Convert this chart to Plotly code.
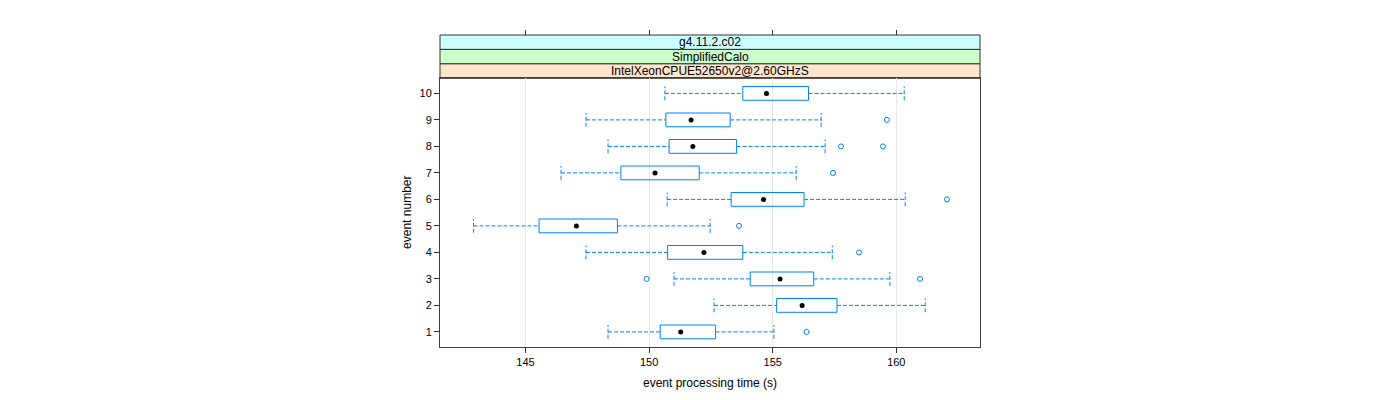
import plotly.graph_objects as go

# ---- data ----
events = [1, 2, 3, 4, 5, 6, 7, 8, 9, 10]
whisker_low = [148.34, 152.63, 151.01, 147.45, 142.90, 150.73, 146.44, 148.34, 147.45, 150.64]
q1 = [150.45, 155.16, 154.09, 150.75, 145.55, 153.32, 148.86, 150.81, 150.68, 153.79]
median = [151.28, 156.19, 155.30, 152.22, 147.06, 154.63, 150.24, 151.77, 151.70, 154.75]
q3 = [152.69, 157.60, 156.66, 153.79, 148.72, 156.27, 152.03, 153.54, 153.28, 156.45]
whisker_high = [155.05, 161.17, 159.74, 157.41, 152.47, 160.36, 155.95, 157.12, 156.96, 160.32]
outlier_event = [1, 3, 3, 4, 5, 6, 7, 8, 8, 9]
outlier_value = [156.37, 149.90, 160.96, 158.49, 153.64, 162.05, 157.44, 157.76, 159.46, 159.62]

strip_labels = ["IntelXeonCPUE52650v2@2.60GHzS", "SimplifiedCalo", "g4.11.2.c02"]
strip_colors = ["#ffe5cc", "#ccffcc", "#ccffff"]
x_ticks = [145, 150, 155, 160]

BLUE = "#0080ff"
FONT = "Liberation Sans, Arial, Helvetica, sans-serif"
H = 0.26  # half box height (data units)

# ---- build geometry from data ----
wx, wy = [], []
bx, by = [], []
for e, lo, a, b, hi in zip(events, whisker_low, q1, q3, whisker_high):
    wx += [lo, a, None, b, hi, None, lo, lo, None, hi, hi, None]
    wy += [e, e, None, e, e, None, e - H, e + H, None, e - H, e + H, None]
    bx += [a, b, b, a, a, None]
    by += [e - H, e - H, e + H, e + H, e - H, None]

fig = go.Figure()
fig.add_trace(go.Scatter(x=wx, y=wy, mode="lines",
                         line=dict(color=BLUE, width=1, dash="4px,2px"),
                         hoverinfo="skip", showlegend=False))
fig.add_trace(go.Scatter(x=bx, y=by, mode="lines",
                         line=dict(color=BLUE, width=1),
                         hoverinfo="skip", showlegend=False))
fig.add_trace(go.Scatter(x=median, y=events, mode="markers",
                         marker=dict(color="black", size=5),
                         showlegend=False))
fig.add_trace(go.Scatter(x=outlier_value, y=outlier_event, mode="markers",
                         marker=dict(symbol="circle-open", color=BLUE, size=5,
                                     line=dict(width=1, color=BLUE)),
                         showlegend=False))
# invisible trace for top tick axis
fig.add_trace(go.Scatter(x=[x_ticks[0]], y=[events[0]], xaxis="x2", mode="markers",
                         marker=dict(opacity=0), hoverinfo="skip", showlegend=False))

XR = [141.544, 163.385]
panel_top = 0.8612
strip_bounds = [0.8612, 0.908, 0.954, 1.0]

shapes = []
for i in range(3):
    shapes.append(dict(type="rect", xref="paper", yref="paper",
                       x0=0, x1=1, y0=strip_bounds[i], y1=strip_bounds[i + 1],
                       fillcolor=strip_colors[i], line=dict(color="#333333", width=1),
                       layer="below"))

annotations = []
for i in range(3):
    annotations.append(dict(text=strip_labels[i], xref="paper", yref="paper",
                            x=0.5, y=(strip_bounds[i] + strip_bounds[i + 1]) / 2,
                            showarrow=False, font=dict(family=FONT, size=12, color="black"),
                            xanchor="center", yanchor="middle"))
annotations.append(dict(text="event processing time (s)", xref="paper", yref="paper",
                        x=0.5, y=-0.115, yanchor="middle", showarrow=False,
                        font=dict(family=FONT, size=12, color="black")))
annotations.append(dict(text="event number", xref="paper", yref="paper",
                        x=-0.0625, y=panel_top / 2, textangle=-90, showarrow=False,
                        xanchor="center", yanchor="middle",
                        font=dict(family=FONT, size=12, color="black")))

fig.update_layout(
    width=1400, height=400,
    margin=dict(l=432, r=428, t=27, b=61),
    paper_bgcolor="white", plot_bgcolor="white",
    font=dict(family=FONT, size=11, color="black"),
    showlegend=False,
    xaxis=dict(range=XR, tickvals=x_ticks, ticktext=[str(t) for t in x_ticks],
               ticks="outside", ticklen=5, tickcolor="#333333",
               showgrid=True, gridcolor="#e8e8e8", gridwidth=1,
               showline=True, linecolor="#404040", linewidth=1, mirror=True,
               zeroline=False, tickfont=dict(family=FONT, size=11)),
    xaxis2=dict(range=XR, overlaying="x", side="top", anchor="free", position=1.0,
                tickvals=x_ticks, showticklabels=False, ticks="outside", ticklen=5,
                tickcolor="#333333", showgrid=False, showline=False, zeroline=False),
    yaxis=dict(range=[0.43, 10.57], domain=[0, panel_top], tickvals=events,
               ticktext=[str(e) for e in events],
               ticks="outside", ticklen=5, tickcolor="#333333",
               showgrid=False, showline=True, linecolor="#404040", linewidth=1,
               mirror=True, zeroline=False, tickfont=dict(family=FONT, size=11)),
    shapes=shapes, annotations=annotations,
)

fig.write_html("out.html")
